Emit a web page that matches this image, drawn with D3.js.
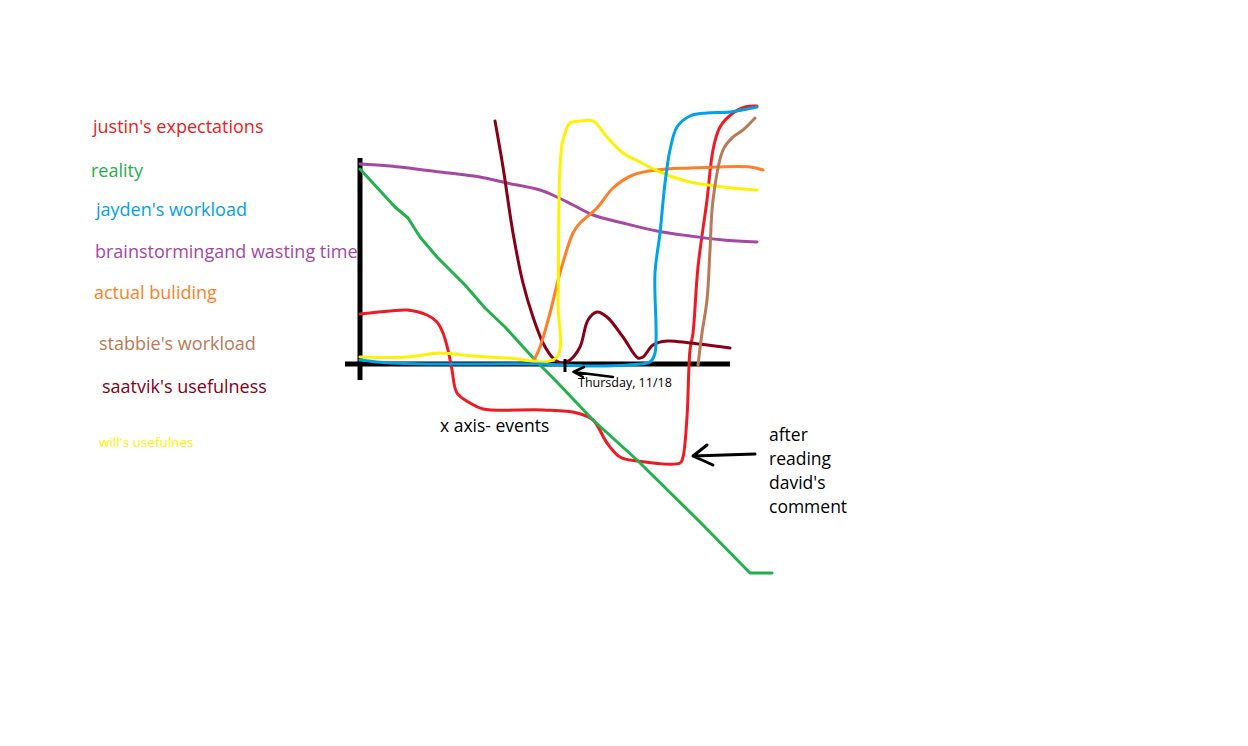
<!DOCTYPE html>
<html><head><meta charset="utf-8">
<script src="https://cdn.jsdelivr.net/npm/d3@7"></script>
<style>
html,body{margin:0;padding:0;background:#fff;}
svg{display:block;}
text{font-family:"Open Sans","Noto Sans",sans-serif;}
</style></head>
<body>
<svg id="chart" width="1248" height="746"></svg>
<script>
// ---- data (hand-drawn, arbitrary units: x = events, y = level) ----
const seriesNames = ["justin's expectations","reality","jayden's workload","brainstormingand wasting time","actual buliding","stabbie's workload","saatvik's usefulness","will's usefulnes"];
const seriesColors = ["#ED1C24","#22B14C","#00A2E8","#A349A4","#FF7F27","#B97A57","#880015","#FFF200"];

const justinX = [0,30,47,67,77,83,88,92,97,110,123,183,217,233,247,260,277,320,323,327,330,333,338,347,353,360,373,385,397];
const justinY = [50,53,54,49,42,31,14,-6,-29,-39,-45,-46,-49,-56,-79,-93,-97,-99,-93,-53,14,31,97,164,214,237,251,257,258];

const realityX = [0,35,48,60,77,92,105,125,145,175,195,233,277,340,390,412];
const realityY = [195,157,146,127,107,92,79,56,37,4,-16,-56,-96,-158,-209,-209];

const jaydenX = [0,30,80,180,230,280,290,295,295,300,305,310,317,330,347,370,397];
const jaydenY = [4,1,0,0,-2,0,2,11,91,131,181,214,237,248,251,252,257];

const brainX = [0,30,80,120,147,180,197,213,233,263,297,330,363,397];
const brainY = [200,198,192,187,181,174,167,159,149,141,133,128,124,122];

const buildX = [173,180,190,200,213,220,237,253,273,297,330,357,390,403];
const buildY = [2,17,51,91,131,141,156,176,189,194,196,197,197,194];

const stabbieX = [338,342,347,350,353,363,373,383,395];
const stabbieY = [-1,31,64,114,164,214,227,234,246];

const saatvikX = [135,143,153,163,173,183,193,202,210,220,228,237,247,263,278,283,293,307,330,370];
const saatvikY = [243,197,131,81,47,21,6,1,4,17,44,52,47,27,6,7,19,23,21,16];

const willX = [0,47,80,113,147,196,198,200,203,210,220,233,247,263,280,300,330,363,397];
const willY = [7,7,11,8,6,6,64,197,224,241,243,243,227,211,202,192,182,177,174];

const xTickValues = [205];
const xTickLabels = ["Thursday, 11/18"];

// ---- layout ----
const svg = d3.select("#chart");
const x = d3.scaleLinear().domain([0,370]).range([360,730]);
const y = d3.scaleLinear().domain([0,204]).range([364,160]);

// axes
const g = svg.append("g");
g.append("line").attr("x1",x(0)).attr("x2",x(0)).attr("y1",y(206)).attr("y2",y(-16))
  .attr("stroke","#000").attr("stroke-width",5);
g.append("line").attr("x1",x(-15)).attr("x2",x(370)).attr("y1",y(0)).attr("y2",y(0))
  .attr("stroke","#000").attr("stroke-width",5);

// curves
const smooth = d3.curveCatmullRom.alpha(0.5);
const series = [
  {xs:justinX, ys:justinY, c:seriesColors[0], curve:smooth},
  {xs:realityX, ys:realityY, c:seriesColors[1], curve:d3.curveLinear},
  {xs:brainX, ys:brainY, c:seriesColors[3], curve:smooth},
  {xs:saatvikX, ys:saatvikY, c:seriesColors[6], curve:smooth},
  {xs:buildX, ys:buildY, c:seriesColors[4], curve:smooth},
  {xs:willX, ys:willY, c:seriesColors[7], curve:smooth},
  {xs:jaydenX, ys:jaydenY, c:seriesColors[2], curve:smooth},
  {xs:stabbieX, ys:stabbieY, c:seriesColors[5], curve:smooth}
];
series.forEach(s=>{
  const line = d3.line().x(d=>x(d[0])).y(d=>y(d[1])).curve(s.curve);
  const pts = s.xs.map((v,i)=>[v,s.ys[i]]);
  svg.append("path").attr("d",line(pts)).attr("fill","none").attr("stroke",s.c)
    .attr("stroke-width",3).attr("stroke-linejoin","round").attr("stroke-linecap","round");
});

// tick + label
xTickValues.forEach((v,i)=>{
  svg.append("line").attr("x1",x(v)).attr("x2",x(v)).attr("y1",y(5)).attr("y2",y(-8))
    .attr("stroke","#000").attr("stroke-width",3);
  svg.append("text").attr("x",x(v+13)).attr("y",y(-23)).attr("font-size",12.5).attr("fill","#000")
    .text(xTickLabels[i]);
  // arrow to tick
  const ap = d3.path();
  ap.moveTo(x(v+48),y(-13)); ap.lineTo(x(v+8.5),y(-8));
  ap.moveTo(x(v+19),y(-3)); ap.lineTo(x(v+8.5),y(-8)); ap.lineTo(x(v+18),y(-13));
  svg.append("path").attr("d",ap.toString()).attr("fill","none").attr("stroke","#000")
    .attr("stroke-width",2.5).attr("stroke-linejoin","round").attr("stroke-linecap","round");
});

// x axis title
svg.append("text").attr("x",x(80)).attr("y",y(-68)).attr("font-size",17.5).attr("fill","#000").text("x axis- events");

// "after reading david's comment" arrow
const ap2 = d3.path();
ap2.moveTo(x(395),y(-90)); ap2.lineTo(x(333),y(-92));
ap2.moveTo(x(347),y(-81)); ap2.lineTo(x(333),y(-92)); ap2.lineTo(x(353),y(-101));
svg.append("path").attr("d",ap2.toString()).attr("fill","none").attr("stroke","#000")
  .attr("stroke-width",3).attr("stroke-linejoin","round").attr("stroke-linecap","round");
["after","reading","david's","comment"].forEach((t,i)=>{
  svg.append("text").attr("x",x(409)).attr("y",y(-77 - i*24)).attr("font-size",17.5).attr("fill","#000").text(t);
});

// legend (text only)
const legendPos = [[93,133,18],[91,177,18],[96,216,18],[95,258,18],[94,299,18],[99,350,18],[102,393,18],[99,447,13.5]];
seriesNames.forEach((n,i)=>{
  svg.append("text").attr("x",legendPos[i][0]).attr("y",legendPos[i][1]).attr("font-size",legendPos[i][2])
    .attr("fill",seriesColors[i]).text(n);
});
</script>
</body></html>
